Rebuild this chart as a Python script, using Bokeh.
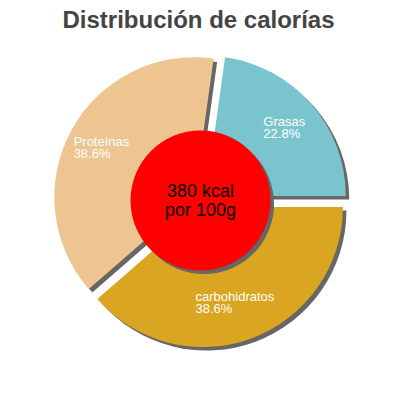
import numpy as np
from bokeh.plotting import figure
from bokeh.models import Range1d
from bokeh.core.properties import value
from bokeh.embed import file_html
from bokeh.resources import INLINE

# ---- data ----
title_text = "Distribución de calorías"
categories = ["Grasas", "Proteínas", "carbohidratos"]
percentages = [22.8, 38.6, 38.6]
energy_kcal = 380
energy_unit = "kcal"
per_text = "por 100g"

# ---- styles ----
palette = ["#7AC5CD", "#EEC591", "#DAA520"]
shadow_color = "#666666"
FONT = "Liberation Sans"

# ---- layout ----
W = H = 384
p = figure(width=W, height=H, output_backend="svg", toolbar_location=None,
           x_axis_type=None, y_axis_type=None,
           x_range=Range1d(0, 384), y_range=Range1d(16, 400),
           min_border=0, min_border_left=0, min_border_right=0,
           min_border_top=0, min_border_bottom=0)
p.outline_line_color = None
p.grid.visible = False
p.background_fill_color = "white"
p.border_fill_color = "white"

cx, cy = 200.0, 200.0
R = 140.0
explode = 7.0
sh = 3.5
r_inner = 70.0
r_lab = 110.0
tshift = 6.0

pct = np.array(percentages, dtype=float)
frac = pct / pct.sum()
ends = np.cumsum(frac) * 2 * np.pi
starts = ends - frac * 2 * np.pi
mids = (starts + ends) / 2
x0 = cx + explode * np.cos(mids)
y0 = cy + explode * np.sin(mids)

# shadows
p.wedge(x=list(x0 + sh), y=list(y0 - sh), radius=R,
        start_angle=list(starts), end_angle=list(ends),
        fill_color=shadow_color, line_color=None)
# slices
p.wedge(x=list(x0), y=list(y0), radius=R,
        start_angle=list(starts), end_angle=list(ends),
        fill_color=palette, line_color=None)

# center circle
p.circle(x=[cx + sh], y=[cy - sh], radius=r_inner, fill_color=shadow_color, line_color=None)
p.circle(x=[cx], y=[cy], radius=r_inner, fill_color="#FF0000", line_color=None)

# slice labels
pct_labels = [f"{v:.1f}%" for v in percentages]
ax = cx + r_lab * np.cos(mids)
ay = cy + r_lab * np.sin(mids) + tshift
est_w = np.array([max(len(a), len(b)) * 6.7 for a, b in zip(categories, pct_labels)])
lx = ax - est_w / 2
p.text(x=list(lx), y=list(ay + 1), text=categories, text_font=value(FONT),
       text_font_size="13px", text_color="white", text_align="left",
       text_baseline="alphabetic")
p.text(x=list(lx), y=list(ay - 11), text=pct_labels, text_font=value(FONT),
       text_font_size="13px", text_color="white", text_align="left",
       text_baseline="alphabetic")

# center text
p.text(x=[cx, cx], y=[cy + 4 + tshift, cy - 15 + tshift],
       text=[f"{energy_kcal} {energy_unit}", per_text], text_font=value(FONT),
       text_font_size="18px", text_color="black", text_align="center",
       text_baseline="alphabetic")

# title
p.text(x=[198], y=[375 + tshift], text=[title_text], text_font=value(FONT),
       text_font_size="24px", text_font_style="bold", text_color="#444444",
       text_align="center", text_baseline="alphabetic")

open("out.html", "w").write(file_html(p, INLINE))
